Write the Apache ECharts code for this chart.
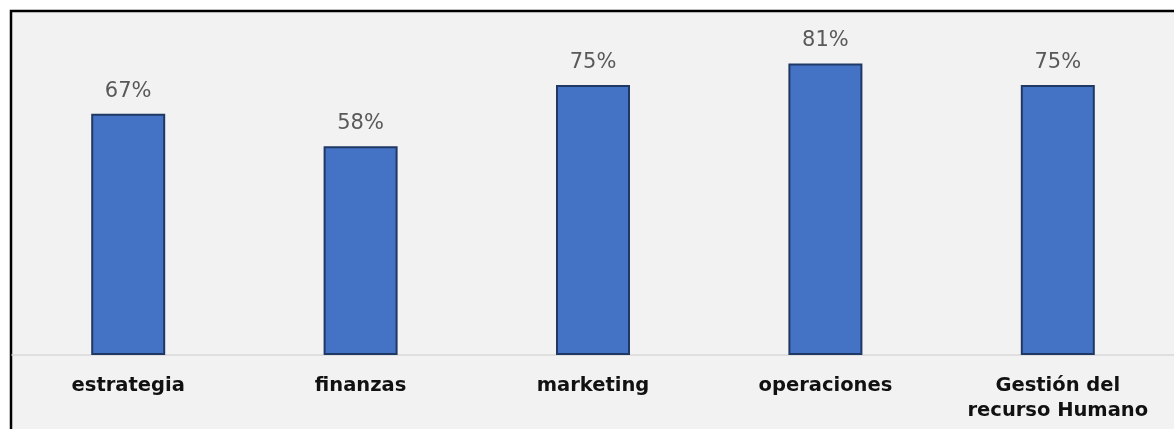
<!DOCTYPE html>
<html>
<head>
<meta charset="utf-8">
<script src="https://cdn.jsdelivr.net/npm/echarts@6/dist/echarts.min.js"></script>
<style>
  html, body { margin: 0; padding: 0; background: #fff; }
  #chart { width: 1174px; height: 429px; }
</style>
</head>
<body>
<div id="chart"></div>
<script>
const categories = ['estrategia', 'finanzas', 'marketing', 'operaciones', 'Gestión del\nrecurso Humano']
const values = [67, 58, 75, 81, 75]

const chart = echarts.init(document.getElementById('chart'), null, { renderer: 'canvas' })

const option = {
  animation: false,
  backgroundColor: '#ffffff',
  graphic: [
    // chart area background and frame
    { type: 'rect', shape: { x: 11, y: 11, width: 1170, height: 430 }, style: { fill: '#F2F2F2', stroke: '#000', lineWidth: 2.5 }, z: -10 }
  ],
  grid: { left: 12, right: -1, top: 13, bottom: 74 },
  xAxis: {
    type: 'category',
    data: categories,
    axisLine: { lineStyle: { color: '#D9D9D9', width: 1.5 } },
    axisTick: { show: false },
    axisLabel: {
      color: '#111',
      fontFamily: 'DejaVu Sans',
      fontWeight: 'bold',
      fontSize: 19.5,
      lineHeight: 25,
      margin: 18,
      interval: 0
    }
  },
  yAxis: {
    type: 'value',
    min: 0,
    max: 95,
    show: false,
    splitLine: { show: false }
  },
  series: [
    {
      type: 'bar',
      data: values,
      barWidth: 74,
      itemStyle: { color: '#4472C4', borderColor: '#1F3864', borderWidth: 2 },
      label: {
        show: true,
        position: 'top',
        distance: 12,
        formatter: '{c}%',
        color: '#595959',
        fontFamily: 'DejaVu Sans',
        fontSize: 21
      }
    }
  ]
}

chart.setOption(option)
</script>
</body>
</html>
